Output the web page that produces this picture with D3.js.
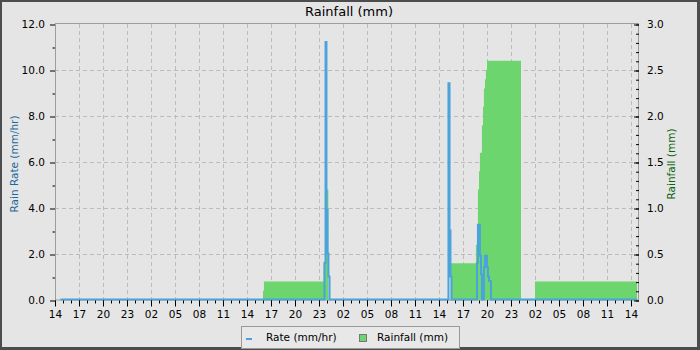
<!DOCTYPE html>
<html lang="en">
<head>
    <meta charset="UTF-8">
    <title>Rainfall (mm)</title>
    <style>
        body { margin: 0; background: #4d4d4d; }
        svg { display: block; font-family: "DejaVu Sans", sans-serif; }
    </style>
</head>
<body>
    <script src="https://d3js.org/d3.v7.min.js"></script>
    <script>
        // time window of the plot
        const startTime = "2024-06-01 14:00";
        const endTime = "2024-06-04 14:45";

        // rain rate (mm/hr), step values starting at each time
        const rateTimes = [
            "2024-06-01 14:40", "2024-06-02 23:41", "2024-06-02 23:49", "2024-06-02 23:56",
            "2024-06-03 00:04", "2024-06-03 00:11", "2024-06-03 00:19",
            "2024-06-03 15:11", "2024-06-03 15:19", "2024-06-03 15:26", "2024-06-03 15:34",
            "2024-06-03 18:45", "2024-06-03 18:52", "2024-06-03 19:07", "2024-06-03 19:15",
            "2024-06-03 19:22", "2024-06-03 19:37", "2024-06-03 19:45", "2024-06-03 20:00",
            "2024-06-03 20:07", "2024-06-03 20:15", "2024-06-03 20:30", "2024-06-04 14:45"
        ];
        const rateValues = [
            0, 1.6, 11.2, 3.9,
            2.0, 1.0, 0,
            9.4, 3.0, 1.0, 0,
            1.6, 3.25, 1.9, 1.1,
            0, 1.4, 1.9, 1.4,
            1.0, 0.8, 0, 0
        ];

        // rainfall (mm)
        const rainTimes = [
            "2024-06-01 14:40", "2024-06-02 16:00", "2024-06-02 16:07", "2024-06-02 23:35",
            "2024-06-02 23:45", "2024-06-02 23:55", "2024-06-03 00:10",
            "2024-06-03 15:28", "2024-06-03 18:37", "2024-06-03 18:52", "2024-06-03 19:00",
            "2024-06-03 19:07", "2024-06-03 19:22", "2024-06-03 19:30", "2024-06-03 19:37",
            "2024-06-03 19:45", "2024-06-03 19:52", "2024-06-03 20:00", "2024-06-04 00:15",
            "2024-06-04 02:00", "2024-06-04 14:45"
        ];
        const rainValues = [
            0, 0.1, 0.2, 0.4,
            0.8, 1.2, 0,
            0.4, 0.6, 1.2, 1.4,
            1.6, 1.9, 2.1, 2.3,
            2.4, 2.5, 2.6, 0,
            0.2, 0.2
        ];

        const rateTicks = [0, 2, 4, 6, 8, 10, 12];
        const rateMinorTicks = [1, 3, 5, 7, 9, 11];
        const rainTicks = [0, 0.5, 1.0, 1.5, 2.0, 2.5, 3.0];

        const blue = "#4ba3db";
        const green = "#6dd56d";

        const parseTime = d3.timeParse("%Y-%m-%d %H:%M");
        const rate = rateTimes.map((t, i) => ({ t: parseTime(t), v: rateValues[i] }));
        const rain = rainTimes.map((t, i) => ({ t: parseTime(t), v: rainValues[i] }));

        const plot = { left: 55, right: 638, top: 24, bottom: 300 };

        const svg = d3.select("body").append("svg")
            .attr("width", 700)
            .attr("height", 350);

        svg.append("rect")
            .attr("x", 2).attr("y", 2)
            .attr("width", 695).attr("height", 345)
            .attr("fill", "#e5e5e5");

        const x = d3.scaleTime()
            .domain([parseTime(startTime), parseTime(endTime)])
            .range([plot.left, 637]);
        const yRate = d3.scaleLinear().domain([0, 12]).range([plot.bottom, plot.top]);
        const yRain = d3.scaleLinear().domain([0, 3]).range([plot.bottom, plot.top]);

        const majorTimes = d3.timeHour.range(parseTime(startTime), parseTime(endTime), 3);
        const minorTimes = d3.timeHour.range(parseTime(startTime), parseTime(endTime));

        // grid
        const grid = svg.append("g")
            .attr("stroke", "#bcbcbc")
            .attr("stroke-dasharray", "4,3");
        grid.selectAll(".hgrid")
            .data(rateTicks.slice(1, -1))
            .enter().append("line")
            .attr("x1", plot.left).attr("x2", plot.right)
            .attr("y1", d => yRate(d) + 0.5).attr("y2", d => yRate(d) + 0.5);
        grid.selectAll(".vgrid")
            .data(majorTimes.slice(1))
            .enter().append("line")
            .attr("x1", d => Math.round(x(d)) + 0.5).attr("x2", d => Math.round(x(d)) + 0.5)
            .attr("y1", plot.top).attr("y2", plot.bottom);

        // plot frame
        svg.append("rect")
            .attr("x", plot.left + 0.5).attr("y", plot.top - 0.5)
            .attr("width", plot.right - plot.left).attr("height", plot.bottom - plot.top + 0.5)
            .attr("fill", "none")
            .attr("stroke", "#9c9c9c");

        // rainfall
        svg.append("path")
            .datum(rain)
            .attr("fill", green)
            .attr("d", d3.area()
                .x(d => x(d.t))
                .y0(yRain(0))
                .y1(d => yRain(d.v))
                .curve(d3.curveStepAfter));

        // rain rate
        svg.append("path")
            .datum(rate)
            .attr("fill", "none")
            .attr("stroke", blue)
            .attr("stroke-width", 2)
            .attr("d", d3.line()
                .x(d => x(d.t))
                .y(d => yRate(d.v) - 0.5)
                .curve(d3.curveStepAfter));

        function styleAxis(g) {
            g.select(".domain").remove();
            g.attr("color", "#000")
                .attr("font-size", "10.5px")
                .attr("font-family", "DejaVu Sans, sans-serif");
        }

        // bottom axis
        svg.append("g")
            .attr("transform", `translate(0,${plot.bottom + 0.5})`)
            .call(d3.axisBottom(x).tickValues(minorTimes).tickSize(3).tickFormat(""))
            .call(styleAxis);
        svg.append("g")
            .attr("transform", `translate(0,${plot.bottom + 0.5})`)
            .call(d3.axisBottom(x).tickValues(majorTimes).tickSize(6).tickPadding(4)
                .tickFormat(d3.timeFormat("%H")))
            .call(styleAxis);

        // left axis
        svg.append("g")
            .attr("transform", `translate(${plot.left},0.5)`)
            .call(d3.axisLeft(yRate).tickValues(rateMinorTicks).tickSize(2.5).tickFormat(""))
            .call(styleAxis);
        svg.append("g")
            .attr("transform", `translate(${plot.left},0.5)`)
            .call(d3.axisLeft(yRate).tickValues(rateTicks).tickSize(5).tickPadding(5)
                .tickFormat(d3.format(".1f")))
            .call(styleAxis);

        // right axis, ticks point into the plot
        const rainMinorTicks = d3.range(0, 31).map(d => d / 10);
        svg.append("g")
            .attr("transform", `translate(${plot.right + 1},0.5)`)
            .call(d3.axisRight(yRain).tickValues(rainMinorTicks).tickSize(-3).tickFormat(""))
            .call(styleAxis);
        svg.append("g")
            .attr("transform", `translate(${plot.right + 1},0.5)`)
            .call(d3.axisRight(yRain).tickValues(rainTicks).tickSize(-5).tickPadding(8)
                .tickFormat(d3.format(".1f")))
            .call(styleAxis);

        // titles
        svg.append("text")
            .attr("x", 349).attr("y", 16)
            .attr("text-anchor", "middle")
            .attr("font-size", "13px")
            .text("Rainfall (mm)");

        svg.append("text")
            .attr("transform", "translate(18,164) rotate(-90)")
            .attr("text-anchor", "middle")
            .attr("font-size", "10.5px")
            .attr("fill", "#1a6aa0")
            .text("Rain Rate (mm/hr)");

        svg.append("text")
            .attr("transform", "translate(675,164) rotate(-90)")
            .attr("text-anchor", "middle")
            .attr("font-size", "10.5px")
            .attr("fill", "#0a640a")
            .text("Rainfall (mm)");

        // legend
        const legend = svg.append("g");
        legend.append("rect")
            .attr("x", 241.5).attr("y", 326.5)
            .attr("width", 218).attr("height", 22)
            .attr("fill", "#e8e8e8")
            .attr("stroke", "#999");
        legend.append("line")
            .attr("x1", 246).attr("x2", 252)
            .attr("y1", 339).attr("y2", 339)
            .attr("stroke", blue)
            .attr("stroke-width", 2);
        legend.append("text")
            .attr("x", 266).attr("y", 341)
            .attr("font-size", "10.5px")
            .text("Rate (mm/hr)");
        legend.append("rect")
            .attr("x", 359.5).attr("y", 334.5)
            .attr("width", 7).attr("height", 7)
            .attr("fill", green)
            .attr("stroke", "#777");
        legend.append("text")
            .attr("x", 377).attr("y", 341)
            .attr("font-size", "10.5px")
            .text("Rainfall (mm)");
    </script>
</body>
</html>
